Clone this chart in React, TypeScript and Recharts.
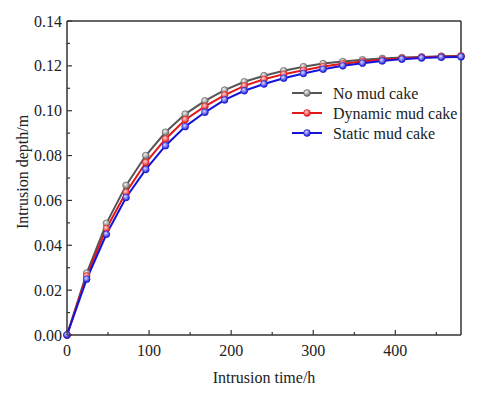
import React from "react";
import { Line, LineChart, ReferenceLine, XAxis, YAxis } from "recharts";

const times = [0, 24, 48, 72, 96, 120, 144, 168, 192, 216, 240, 264, 288, 312, 336, 360, 384, 408, 432, 456, 480];
const noMudCake = [0, 0.0276, 0.0498, 0.0667, 0.08, 0.0904, 0.0985, 0.1044, 0.1092, 0.1129, 0.1156, 0.1178, 0.1196, 0.121, 0.1219, 0.1227, 0.1233, 0.1237, 0.124, 0.1243, 0.1245];
const dynamicMudCake = [0, 0.0263, 0.0475, 0.0636, 0.0769, 0.0874, 0.096, 0.1019, 0.107, 0.1111, 0.114, 0.1163, 0.118, 0.1197, 0.1209, 0.1219, 0.1227, 0.1233, 0.1238, 0.1241, 0.1243];
const staticMudCake = [0, 0.0249, 0.0449, 0.0613, 0.0738, 0.0844, 0.0929, 0.0993, 0.1048, 0.1089, 0.1119, 0.1145, 0.1166, 0.1185, 0.12, 0.1212, 0.1222, 0.123, 0.1235, 0.1238, 0.124];

const xMajor = [0, 100, 200, 300, 400];
const xTicks = [0, 50, 100, 150, 200, 250, 300, 350, 400, 450];
const yMajor = [0, 0.02, 0.04, 0.06, 0.08, 0.1, 0.12, 0.14];
const yTicks = [0, 0.01, 0.02, 0.03, 0.04, 0.05, 0.06, 0.07, 0.08, 0.09, 0.1, 0.11, 0.12, 0.13, 0.14];

const series = [
  { key: "none", name: "No mud cake", color: "#555555", grad: "g-gray" },
  { key: "dynamic", name: "Dynamic mud cake", color: "#e01818", grad: "g-red" },
  { key: "static", name: "Static mud cake", color: "#1414d8", grad: "g-blue" },
];

const data = times.map((t, i) => ({
  t,
  none: noMudCake[i],
  dynamic: dynamicMudCake[i],
  static: staticMudCake[i],
}));

const FONT = "'Liberation Serif', 'Times New Roman', serif";
const AXIS = "#333";
const txt = { fontFamily: FONT, fontSize: 16 };

const isMajor = (list: number[], v: number) => list.some((m) => Math.abs(m - v) < 1e-9);

function YTick(props: any) {
  const { x, y, payload } = props;
  const major = isMajor(yMajor, payload.value);
  const ax = x + 5;
  return (
    <g>
      <line x1={ax} x2={ax + (major ? 5 : 3)} y1={y} y2={y} stroke={AXIS} strokeWidth={1.2} />
      {major && (
        <text x={x} y={y} dy="0.35em" textAnchor="end" style={txt} fill="#222">
          {payload.value.toFixed(2)}
        </text>
      )}
    </g>
  );
}

function XTick(props: any) {
  const { x, y, payload } = props;
  const major = isMajor(xMajor, payload.value);
  const ay = y - 8;
  return (
    <g>
      <line x1={x} x2={x} y1={ay} y2={ay - (major ? 5 : 3)} stroke={AXIS} strokeWidth={1.2} />
      {major && (
        <text x={x} y={y + 13} textAnchor="middle" style={txt} fill="#222">
          {payload.value}
        </text>
      )}
    </g>
  );
}

function Dot(grad: string, color: string) {
  return (props: any) => {
    const { cx, cy, index } = props;
    if (cx == null || cy == null) return <g key={index} />;
    return <circle key={index} cx={cx} cy={cy} r={3.4} fill={`url(#${grad})`} stroke={color} strokeWidth={0.6} />;
  };
}

function LegendBox() {
  return (
    <svg width={180} height={62} style={{ position: "absolute", left: 292, top: 84 }}>
      {series.map((s, i) => {
        const y = 9 + i * 20;
        return (
          <g key={s.key}>
            <line x1={0} x2={30} y1={y} y2={y} stroke={s.color} strokeWidth={2} />
            <circle cx={15} cy={y} r={3.4} fill={`url(#${s.grad})`} stroke={s.color} strokeWidth={0.6} />
            <text x={41} y={y} dy="0.35em" style={txt} fill="#222">
              {s.name}
            </text>
          </g>
        );
      })}
    </svg>
  );
}

function Gradients() {
  return (
    <svg width={0} height={0} style={{ position: "absolute" }}>
      <defs>
        <radialGradient id="g-gray" cx="40%" cy="35%" r="65%">
          <stop offset="0%" stopColor="#f4f4f4" />
          <stop offset="100%" stopColor="#6a6a6a" />
        </radialGradient>
        <radialGradient id="g-red" cx="40%" cy="35%" r="65%">
          <stop offset="0%" stopColor="#ffd0d0" />
          <stop offset="100%" stopColor="#e01818" />
        </radialGradient>
        <radialGradient id="g-blue" cx="40%" cy="35%" r="65%">
          <stop offset="0%" stopColor="#d8d8ff" />
          <stop offset="100%" stopColor="#1414d8" />
        </radialGradient>
      </defs>
    </svg>
  );
}

export default function App() {
  return (
    <div style={{ position: "absolute", left: 0, top: 0, width: 480, height: 394, background: "#fff" }}>
      <Gradients />
      <LineChart width={480} height={394} data={data} margin={{ top: 21, right: 19, bottom: 0, left: 0 }}>
        <XAxis
          dataKey="t"
          type="number"
          domain={[0, 480]}
          ticks={xTicks}
          interval={0}
          height={59}
          tickSize={0}
          tickMargin={8}
          tickLine={false}
          tick={<XTick />}
          axisLine={{ stroke: AXIS, strokeWidth: 1.5 }}
          label={{
            content: () => (
              <text x={264} y={383} textAnchor="middle" style={txt} fill="#222">
                Intrusion time/h
              </text>
            ),
          }}
        />
        <YAxis
          type="number"
          domain={[0, 0.14]}
          ticks={yTicks}
          interval={0}
          width={67}
          tickSize={0}
          tickMargin={5}
          tickLine={false}
          tick={<YTick />}
          axisLine={{ stroke: AXIS, strokeWidth: 1.5 }}
          label={{
            content: () => (
              <text
                x={22}
                y={172}
                textAnchor="middle"
                dy="0.35em"
                transform="rotate(-90 22 172)"
                style={txt}
                fill="#222"
              >
                Intrusion depth/m
              </text>
            ),
          }}
        />
        <ReferenceLine y={0.14} stroke={AXIS} strokeWidth={1.5} />
        <ReferenceLine x={480} stroke={AXIS} strokeWidth={1.5} />
        {series.map((s) => (
          <Line
            key={s.key}
            dataKey={s.key}
            name={s.name}
            stroke={s.color}
            strokeWidth={2}
            dot={Dot(s.grad, s.color)}
            activeDot={false}
            isAnimationActive={false}
          />
        ))}
      </LineChart>
      <LegendBox />
    </div>
  );
}
